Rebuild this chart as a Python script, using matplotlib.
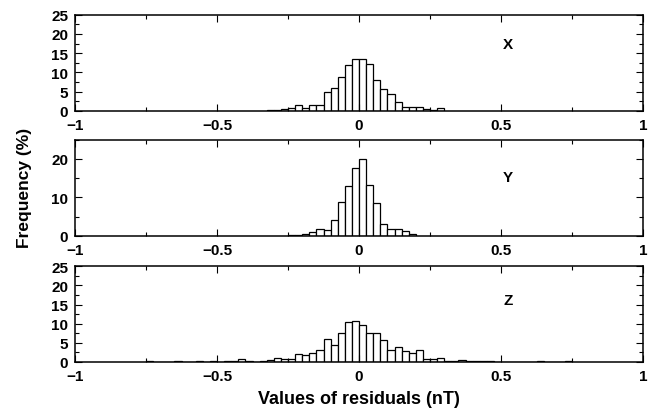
import matplotlib
matplotlib.use("Agg")
import matplotlib.pyplot as plt
import numpy as np
from matplotlib.ticker import MultipleLocator, FuncFormatter

plt.rcParams["font.family"] = ["Liberation Sans", "DejaVu Sans"]
plt.rcParams["font.weight"] = "bold"

BIN = 0.025

# X component: left bin edges start at -0.325
x_start = -0.325
freq_x = [0.2, 0.25, 0.4, 0.7, 1.4, 0.6, 1.6, 1.4, 4.8, 6.0, 8.9, 12.0, 13.4,
          13.6, 12.3, 8.0, 5.6, 4.3, 2.3, 1.1, 1.1, 1.0, 0.35, 0.2, 0.7]

# Y component: left bin edges start at -0.25
y_start = -0.25
freq_y = [0.1, 0.15, 0.6, 1.0, 1.9, 1.4, 4.0, 8.7, 12.9, 17.7,
          20.1, 13.2, 8.5, 3.2, 1.9, 1.9, 1.2, 0.6]

# Z component: left bin edges start at -0.75
z_start = -0.75
freq_z = [0.1, 0, 0, 0, 0.1, 0, 0, 0.1, 0, 0.1, 0, 0.1, 0.2, 0.6, 0.2, 0, 0.1,
          0.5, 0.9, 0.6, 0.6, 2.0, 1.7, 2.4, 3.0, 5.9, 4.5, 7.5, 10.4, 10.8,
          9.6, 7.4, 7.4, 5.6, 3.1, 3.8, 2.7, 2.3, 3.0, 0.6, 0.6, 0.9, 0.2, 0.1,
          0.4, 0.25, 0.1, 0.25, 0.1, 0, 0, 0, 0, 0, 0, 0.3, 0, 0, 0, 0.1]

panels = [
    ("X", x_start, freq_x, 5, 17.4),
    ("Y", y_start, freq_y, 10, 15.4),
    ("Z", z_start, freq_z, 5, 16.3),
]


def fmt(v, pos):
    if abs(v) < 1e-9:
        return "0"
    return f"{v:g}".replace("-", "\u2212")


fig = plt.figure(figsize=(6.54, 4.14), dpi=100)
boxes = [(0.1147, 0.730, 0.8685, 0.232),
         (0.1147, 0.428, 0.8685, 0.232),
         (0.1147, 0.124, 0.8685, 0.230)]

for (name, start, freq, ymaj, label_y), box in zip(panels, boxes):
    ax = fig.add_axes(box)
    left = start + BIN * np.arange(len(freq))
    ax.bar(left, freq, width=BIN, align="edge", color="white",
           edgecolor="black", linewidth=0.9)
    ax.set_xlim(-1, 1)
    ax.set_ylim(0, 25)
    ax.xaxis.set_major_locator(MultipleLocator(0.5))
    ax.xaxis.set_minor_locator(MultipleLocator(0.25))
    ax.yaxis.set_major_locator(MultipleLocator(ymaj))
    ax.yaxis.set_minor_locator(MultipleLocator(ymaj / 2))
    ax.xaxis.set_major_formatter(FuncFormatter(fmt))
    ax.tick_params(which="both", direction="in", top=True, right=True,
                   labelsize=11, width=0.8)
    ax.tick_params(which="major", length=5, pad=5)
    ax.tick_params(which="minor", length=3)
    for lab in ax.get_xticklabels() + ax.get_yticklabels():
        lab.set_fontweight("bold")
    for s in ax.spines.values():
        s.set_linewidth(1.1)
    ax.text(0.525, label_y, name, fontsize=11, fontweight="bold",
            ha="center", va="center")

fig.text(0.038, 0.545, "Frequency (%)", rotation=90, fontsize=12.5,
         fontweight="bold", ha="center", va="center")
fig.text(0.549, 0.036, "Values of residuals (nT)", fontsize=13,
         fontweight="bold", ha="center", va="center")

fig.savefig("out.png", dpi=100)
